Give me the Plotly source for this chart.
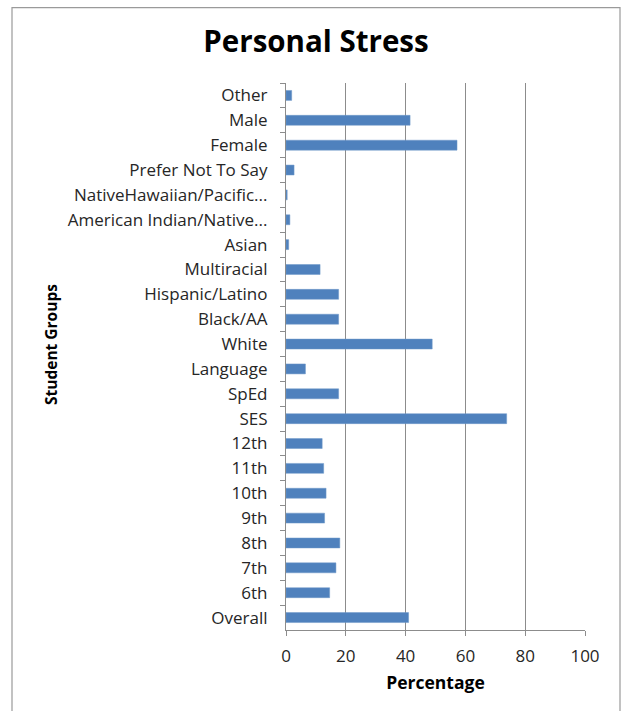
import plotly.graph_objects as go

# Student groups, listed top to bottom as they appear on the chart
groups = [
    "Other", "Male", "Female", "Prefer Not To Say",
    "NativeHawaiian/Pacific...", "American Indian/Native...", "Asian",
    "Multiracial", "Hispanic/Latino", "Black/AA", "White", "Language",
    "SpEd", "SES", "12th", "11th", "10th", "9th", "8th", "7th", "6th",
    "Overall",
]
# Percentage of each group reporting personal stress
percent = [
    1.9, 41.5, 57.2, 2.7,
    0.4, 1.3, 0.9,
    11.4, 17.6, 17.6, 48.9, 6.5,
    17.6, 73.8, 12.1, 12.6, 13.4, 12.9, 18.0, 16.7, 14.6,
    41.0,
]
x_ticks = [0, 20, 40, 60, 80, 100]

FONT = "'Open Sans', Lato, sans-serif"
GRID = "#8c8c8c"

fig = go.Figure(
    go.Bar(
        x=percent,
        y=groups,
        orientation="h",
        marker=dict(color="#4F81BD", line=dict(color="#6f98c8", width=0.5)),
        hoverinfo="x+y",
    )
)

W, H = 624, 711
L, R, T, B = 286, 39, 82.5, 80.5
pw, ph = W - L - R, H - T - B


def px_x(p):
    return (p - L) / pw


def px_y(p):
    return 1 - (p - T) / ph


fig.update_layout(
    width=W,
    height=H,
    margin=dict(l=L, r=R, t=T, b=B, pad=0),
    paper_bgcolor="white",
    plot_bgcolor="white",
    bargap=0.6,
    showlegend=False,
    font=dict(family=FONT, color="#262626", size=16),
    title=dict(
        text="<b>Personal Stress</b>",
        x=px_x(316),
        xref="paper",
        xanchor="center",
        y=1 - 42 / H,
        yanchor="middle",
        font=dict(family=FONT, size=29.5, color="#000000"),
    ),
    xaxis=dict(
        range=[0, 100],
        tickvals=x_ticks,
        ticktext=[str(v) for v in x_ticks],
        showgrid=True,
        gridcolor=GRID,
        gridwidth=1.2,
        zeroline=False,
        showline=True,
        linecolor=GRID,
        linewidth=1.2,
        ticks="outside",
        ticklen=5,
        tickcolor=GRID,
        tickfont=dict(size=17, color="#262626"),
        ticklabelstandoff=5,
        title=dict(
            text="<b>Percentage</b>",
            font=dict(size=17.5, color="#000000"),
            standoff=11,
        ),
        fixedrange=True,
    ),
    yaxis=dict(
        type="category",
        autorange="reversed",
        showgrid=False,
        zeroline=False,
        showline=True,
        linecolor=GRID,
        linewidth=1.2,
        ticks="outside",
        tickson="boundaries",
        ticklen=5,
        tickcolor=GRID,
        tickfont=dict(size=17, color="#262626"),
        ticklabelstandoff=14,
        title=dict(text="", font=dict(size=15)),
        fixedrange=True,
    ),
    shapes=[
        # outer chart frame
        dict(
            type="rect",
            xref="paper",
            yref="paper",
            x0=px_x(12),
            x1=px_x(620),
            y0=px_y(725),
            y1=px_y(7),
            line=dict(color="#9a9a9a", width=1.2),
            fillcolor="rgba(0,0,0,0)",
            layer="below",
        ),
    ],
    annotations=[
        dict(
            text="<b>Student Groups</b>",
            textangle=-90,
            xref="paper",
            yref="paper",
            x=px_x(51),
            y=px_y(345),
            xanchor="center",
            yanchor="middle",
            showarrow=False,
            font=dict(size=15.5, color="#000000", family=FONT),
        ),
    ],
)

fig.write_html("out.html")
